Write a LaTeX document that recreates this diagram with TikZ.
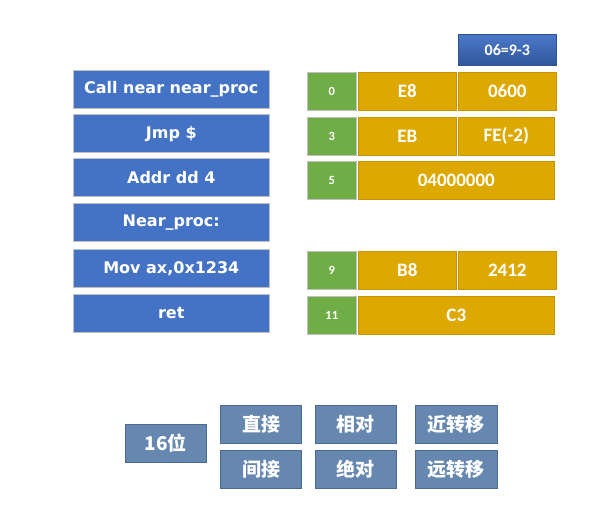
\documentclass[tikz,border=0pt]{standalone}
\usepackage{fontspec}
\setmainfont{Carlito}
\newfontfamily\codefont{DejaVu Sans}
\newfontfamily\cjk{Noto Sans CJK SC}
\definecolor{insblue}{HTML}{4472C4}
\definecolor{insgray}{HTML}{BFBFBF}
\definecolor{gold}{HTML}{DDA800}
\definecolor{goldline}{HTML}{C49500}
\definecolor{addrgreen}{HTML}{70AD47}
\definecolor{steel}{HTML}{6587B0}
\definecolor{steelline}{HTML}{4A6A94}
\definecolor{topA}{HTML}{4A78C8}
\definecolor{topB}{HTML}{2F5597}
\begin{document}
\begin{tikzpicture}[x=1pt,y=-1pt,
  box/.style={draw, line width=1pt, inner sep=0pt, text=white, font=\bfseries},
  ins/.style={box, fill=insblue, draw=insgray, font=\codefont\bfseries\fontsize{16}{19}\selectfont},
  addr/.style={box, fill=addrgreen, draw=insgray, font=\bfseries\fontsize{12.5}{14}\selectfont},
  code/.style={box, fill=gold, draw=goldline, font=\bfseries\fontsize{19}{22}\selectfont},
  cat/.style={box, fill=steel, draw=steelline, font=\cjk\bfseries\fontsize{19}{22}\selectfont},
]
\useasboundingbox[fill=white] (0,0) rectangle (602,526);
% left instruction boxes
\node[ins, minimum width=196pt, minimum height=38pt] (i1) at (171.3,89.5) {Call near near\_proc};
\node[ins, minimum width=196pt, minimum height=38pt] (i2) at (171.3,134) {Jmp \$};
\node[ins, minimum width=196pt, minimum height=38pt] (i3) at (171.3,178) {Addr dd 4};
\node[ins, minimum width=196pt, minimum height=38pt] (i4) at (171.3,223) {Near\_proc:};
\node[ins, minimum width=196pt, minimum height=38pt] (i5) at (171.3,268.3) {Mov ax,0x1234};
\node[ins, minimum width=196pt, minimum height=38pt] (i6) at (171.3,313.3) {ret};
% top label
\node[box, top color=topA, bottom color=topB, draw=topB, minimum width=98pt, minimum height=31pt,
  font=\bfseries\fontsize{16}{19}\selectfont] (off) at (507.3,50.5) {06=9-3};
% row 0
\node[addr, minimum width=49pt, minimum height=38pt] (a0) at (331.8,91.3) {0};
\node[code, minimum width=98.5pt, minimum height=38pt] (c0a) at (407.3,91.3) {E8};
\node[code, minimum width=98.5pt, minimum height=38pt] (c0b) at (507.3,91.3) {0600};
% row 3
\node[addr, minimum width=49pt, minimum height=38pt] (a3) at (331.8,136.3) {3};
\node[code, minimum width=98.5pt, minimum height=38pt] (c3a) at (407.3,136.3) {EB};
\node[code, minimum width=96.5pt, minimum height=38pt] (c3b) at (506.3,136.3) {FE(-2)};
% row 5
\node[addr, minimum width=49pt, minimum height=38pt] (a5) at (331.8,180.3) {5};
\node[code, minimum width=196.5pt, minimum height=38pt] (c5) at (456.3,180.3) {04000000};
% row 9
\node[addr, minimum width=49pt, minimum height=38pt] (a9) at (331.8,270.2) {9};
\node[code, minimum width=98.5pt, minimum height=38pt] (c9a) at (407.3,270.2) {B8};
\node[code, minimum width=98.5pt, minimum height=38pt] (c9b) at (507.3,270.2) {2412};
% row 11
\node[addr, minimum width=49pt, minimum height=38pt] (a11) at (331.8,315.3) {11};
\node[code, minimum width=196.5pt, minimum height=38pt] (c11) at (456.3,315.3) {C3};
% bottom categories
\node[cat, minimum width=81.5pt, minimum height=38pt] (b16) at (165.8,443.5) {16位};
\node[cat, minimum width=81.5pt, minimum height=38pt] (d1) at (261,424.2) {直接};
\node[cat, minimum width=81.5pt, minimum height=38pt] (d2) at (261,469.2) {间接};
\node[cat, minimum width=81.5pt, minimum height=38pt] (r1) at (355.8,424.2) {相对};
\node[cat, minimum width=81.5pt, minimum height=38pt] (r2) at (355.8,469.2) {绝对};
\node[cat, minimum width=82.5pt, minimum height=38pt] (n1) at (456.3,424.2) {近转移};
\node[cat, minimum width=82.5pt, minimum height=38pt] (n2) at (456.3,469.2) {远转移};
\end{tikzpicture}
\end{document}
